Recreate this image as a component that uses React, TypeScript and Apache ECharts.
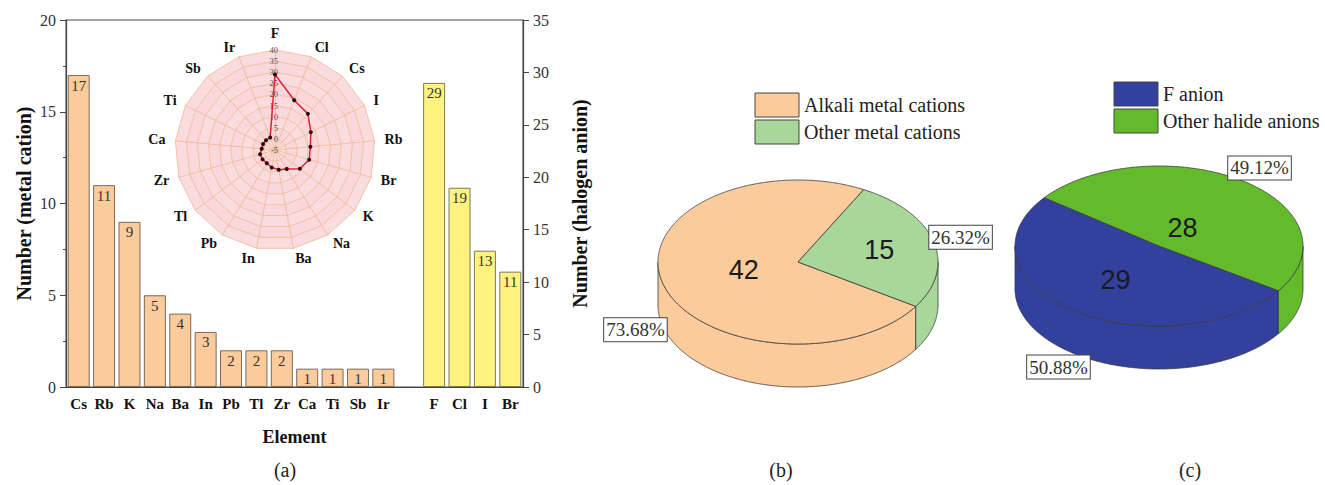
import React, { useEffect, useRef } from "react";
import * as echarts from "echarts";

// ---------- data ----------
const metalCats = ["Cs", "Rb", "K", "Na", "Ba", "In", "Pb", "Tl", "Zr", "Ca", "Ti", "Sb", "Ir"];
const metalVals = [17, 11, 9, 5, 4, 3, 2, 2, 2, 1, 1, 1, 1];
const halogenCats = ["F", "Cl", "I", "Br"];
const halogenVals = [29, 19, 13, 11];
const xCats = [...metalCats, "", ...halogenCats];

const leftTicks = { min: 0, max: 20, interval: 5 };
const rightTicks = { min: 0, max: 35, interval: 5 };
const radarRange = { min: -5, max: 40, split: 9 };

// radar order, clockwise from the top
const radarOrder = ["F", "Cl", "Cs", "I", "Rb", "Br", "K", "Na", "Ba", "In", "Pb", "Tl", "Zr", "Ca", "Ti", "Sb", "Ir"];

const cationNames = ["Alkali metal cations", "Other metal cations"];
const cationVals = [42, 15];
const anionNames = ["F anion", "Other halide anions"];
const anionVals = [29, 28];

const panelLabels = ["(a)", "(b)", "(c)"];

// ---------- styles ----------
const SERIF_NAME = "'Liberation Serif', 'Times New Roman', serif";
const SANS_NAME = "'Liberation Sans', Arial, sans-serif";
const serifFont = (size: number, weight = "normal") => `${weight} ${size}px ${SERIF_NAME}`;
const sansFont = (size: number) => `normal ${size}px ${SANS_NAME}`;
const ORANGE = "#FBCB9B";
const YELLOW = "#FFF380";
const cationColors = ["#FBCB9B", "#A9D699"];
const anionColors = ["#33409E", "#63BB2C"];

const valueOf = (name: string) => {
  const mi = metalCats.indexOf(name);
  if (mi >= 0) return metalVals[mi];
  const hi = halogenCats.indexOf(name);
  return halogenVals[hi];
};

// radar in ECharts runs counter-clockwise: keep first, reverse the rest
const radarNamesCCW = [radarOrder[0], ...radarOrder.slice(1).reverse()];
const radarValsCCW = radarNamesCCW.map(valueOf);

type PieCfg = {
  cx: number; cy: number; rx: number; ry: number; depth: number;
  start: number; names: string[]; vals: number[]; colors: string[];
  innerR: number[];
};

const pieB: PieCfg = {
  cx: 798, cy: 262, rx: 140, ry: 82, depth: 43, start: -32.75,
  names: cationNames, vals: cationVals, colors: cationColors, innerR: [0.4, 0.6],
};
const pieC: PieCfg = {
  cx: 1159, cy: 246, rx: 144, ry: 80, depth: 43, start: -34,
  names: anionNames, vals: anionVals, colors: anionColors, innerR: [0.52, 0.28],
};

function pieSeries(cfg: PieCfg, id: string) {
  const total = cfg.vals.reduce((a, b) => a + b, 0);
  const rad = (d: number) => (d * Math.PI) / 180;
  const topPt = (a: number) => [cfg.cx + cfg.rx * Math.cos(rad(a)), cfg.cy - cfg.ry * Math.sin(rad(a))];
  const botPt = (a: number) => [cfg.cx + cfg.rx * Math.cos(rad(a)), cfg.cy - cfg.ry * Math.sin(rad(a)) + cfg.depth];
  return {
    type: "custom",
    id,
    coordinateSystem: "none",
    data: cfg.vals.map((v, i) => ({ value: [v, i], name: cfg.names[i] })),
    renderItem: (params: any, api: any) => {
      const i = params.dataIndex;
      const v = api.value(0);
      let before = 0;
      for (let k = 0; k < i; k++) before += cfg.vals[k];
      const a0 = cfg.start - (before / total) * 360;
      const span = (v / total) * 360;
      const a1 = a0 - span;
      const children: any[] = [];
      const step = 0.5;
      // walls (front half: sin <= 0)
      const segs: number[][] = [];
      let cur: number[] | null = null;
      for (let a = a0; a >= a1 - 1e-9; a -= step) {
        const front = Math.sin(rad(a)) <= 1e-9;
        if (front) {
          if (!cur) cur = [a, a];
          cur[1] = a;
        } else if (cur) {
          segs.push(cur);
          cur = null;
        }
      }
      if (cur) {
        if (Math.sin(rad(a1)) <= 1e-9) cur[1] = a1;
        segs.push(cur);
      }
      segs.forEach((s) => {
        const pts: number[][] = [];
        for (let a = s[0]; a >= s[1]; a -= step) pts.push(topPt(a));
        pts.push(topPt(s[1]));
        pts.push(botPt(s[1]));
        for (let a = s[1]; a <= s[0]; a += step) pts.push(botPt(a));
        pts.push(botPt(s[0]));
        children.push({
          type: "polygon",
          shape: { points: pts },
          style: { fill: cfg.colors[i], stroke: "#3a3a3a", lineWidth: 0.8 },
          z2: 1,
        });
      });
      // top face
      const tp: number[][] = [[cfg.cx, cfg.cy]];
      for (let a = a0; a > a1; a -= step) tp.push(topPt(a));
      tp.push(topPt(a1));
      children.push({
        type: "polygon",
        shape: { points: tp },
        style: { fill: cfg.colors[i], stroke: "#3a3a3a", lineWidth: 0.8 },
        z2: 2,
      });
      // labels
      const mid = a0 - span / 2;
      const r = cfg.innerR[i];
      children.push({
        type: "text",
        x: cfg.cx + cfg.rx * r * Math.cos(rad(mid)),
        y: cfg.cy - cfg.ry * r * Math.sin(rad(mid)),
        style: {
          text: String(v), font: sansFont(27), fill: "#1a1a1a",
          align: "center", verticalAlign: "middle",
        },
        z2: 5,
      });
      const lowerHalf = Math.sin(rad(mid)) < 0;
      children.push({
        type: "text",
        x: cfg.cx + cfg.rx * 1.2 * Math.cos(rad(mid)),
        y: cfg.cy - cfg.ry * 1.2 * Math.sin(rad(mid)) + (lowerHalf ? cfg.depth : 0),
        style: {
          text: ((v / total) * 100).toFixed(2) + "%", font: serifFont(19), fill: "#333",
          align: "center", verticalAlign: "middle", backgroundColor: "#fff",
          borderColor: "#444", borderWidth: 1, padding: [3, 2, 1, 2],
        },
        z2: 10,
      });
      return { type: "group", children };
    },
  };
}

function legendGraphic(x: number, y: number, names: string[], colors: string[]) {
  const els: any[] = [];
  names.forEach((n, i) => {
    els.push({
      type: "rect",
      shape: { x, y: y + i * 27, width: 44, height: 24 },
      style: { fill: colors[i], stroke: "#444", lineWidth: 1 },
    });
    els.push({
      type: "text",
      x: x + 49,
      y: y + i * 27 + 12,
      style: { text: n, font: serifFont(20), fill: "#222", verticalAlign: "middle" },
    });
  });
  return els;
}

export default function App() {
  const ref = useRef<HTMLDivElement>(null);
  useEffect(() => {
    if (!ref.current) return;
    const chart = echarts.init(ref.current, null, { renderer: "svg" });
    const metalData = xCats.map((c) => {
      const i = metalCats.indexOf(c);
      return i >= 0 ? metalVals[i] : "-";
    });
    const halogenData = xCats.map((c) => {
      const i = halogenCats.indexOf(c);
      return i >= 0 ? halogenVals[i] : "-";
    });
    const axisColor = "#444";
    const barLabel = {
      show: true, position: "insideTop", distance: 3, fontSize: 15, fontFamily: SERIF_NAME, color: "#333",
    };
    const panelX = [285, 781, 1190];
    chart.setOption({
      animation: false,
      backgroundColor: "#fff",
      grid: {
        left: 66, right: 1325 - 523, top: 20, bottom: 485 - 387,
        show: true, borderColor: axisColor, borderWidth: 1, backgroundColor: "transparent",
      },
      xAxis: {
        type: "category",
        data: xCats,
        name: "Element",
        nameLocation: "middle",
        nameGap: 41,
        nameTextStyle: { fontSize: 18, fontWeight: "bold", fontFamily: SERIF_NAME, color: "#111" },
        axisLine: { lineStyle: { color: axisColor, width: 1.2 } },
        axisTick: { alignWithLabel: true, length: 6, lineStyle: { color: axisColor } },
        axisLabel: { fontSize: 15, fontWeight: "bold", fontFamily: SERIF_NAME, color: "#111", margin: 9, interval: 0 },
      },
      yAxis: [
        {
          type: "value", ...leftTicks,
          name: "Number (metal cation)",
          nameLocation: "middle",
          nameGap: 32,
          nameTextStyle: { fontSize: 20, fontWeight: "bold", fontFamily: SERIF_NAME, color: "#111" },
          axisLine: { show: true, lineStyle: { color: axisColor, width: 1.2 } },
          axisTick: { show: true, length: 6, lineStyle: { color: axisColor } },
          minorTick: { show: true, splitNumber: 2, length: 3, lineStyle: { color: axisColor } },
          axisLabel: { fontSize: 16, fontFamily: SERIF_NAME, color: "#333", margin: 10 },
          splitLine: { show: false },
        },
        {
          type: "value", ...rightTicks,
          position: "right",
          name: "Number (halogen anion)",
          nameLocation: "middle",
          nameGap: 47,
          nameRotate: 90,
          nameTextStyle: { fontSize: 20, fontWeight: "bold", fontFamily: SERIF_NAME, color: "#111" },
          axisLine: { show: true, lineStyle: { color: axisColor, width: 1.2 } },
          axisTick: { show: true, length: 6, lineStyle: { color: axisColor } },
          axisLabel: { fontSize: 16, fontFamily: SERIF_NAME, color: "#333", margin: 10 },
          splitLine: { show: false },
        },
      ],
      radar: {
        center: [275, 150],
        radius: 100,
        startAngle: 90,
        splitNumber: radarRange.split,
        shape: "polygon",
        nameGap: 10,
        axisName: { color: "#111", fontWeight: "bold", fontFamily: SERIF_NAME, fontSize: 14 },
        splitLine: { lineStyle: { color: "#EFB88F", width: 0.8 } },
        splitArea: { show: true, areaStyle: { color: ["#FADCDF", "#F9D7DB"] } },
        axisLine: { lineStyle: { color: "#EFB88F", width: 0.8 } },
        axisLabel: { show: false },
        indicator: radarNamesCCW.map((n, i) => ({
          name: n,
          min: radarRange.min,
          max: radarRange.max,
          ...(i === 0
            ? { axisLabel: { show: true, fontSize: 8.5, color: "#555", fontFamily: SERIF_NAME, margin: -3, align: "right" } }
            : {}),
        })),
      },
      series: [
        {
          type: "bar", name: "metal", data: metalData, yAxisIndex: 0, barWidth: 22, barGap: "-100%",
          itemStyle: { color: ORANGE, borderColor: "#7a6a5a", borderWidth: 1 },
          label: barLabel,
        },
        {
          type: "bar", name: "halogen", data: halogenData, yAxisIndex: 1, barWidth: 22, barGap: "-100%",
          itemStyle: { color: YELLOW, borderColor: "#7a7a5a", borderWidth: 1 },
          label: barLabel,
        },
        {
          type: "radar",
          data: [{ value: radarValsCCW, name: "count" }],
          symbol: "circle",
          symbolSize: 4,
          lineStyle: { color: "#E0203A", width: 1.5 },
          itemStyle: { color: "#2a0808" },
          z: 5,
        },
        pieSeries(pieB, "pieB"),
        pieSeries(pieC, "pieC"),
      ],
      graphic: [
        ...legendGraphic(755, 93, cationNames, cationColors),
        ...legendGraphic(1114, 82, anionNames, anionColors),
        ...panelLabels.map((t, i) => ({
          type: "text", x: panelX[i], y: 470,
          style: { text: t, font: serifFont(20), fill: "#222", align: "center", verticalAlign: "middle" },
        })),
      ],
    });
    return () => chart.dispose();
  }, []);
  return (
    <div
      ref={ref}
      style={{ position: "fixed", left: 0, top: 0, width: 1325, height: 485, background: "#fff" }}
    />
  );
}
